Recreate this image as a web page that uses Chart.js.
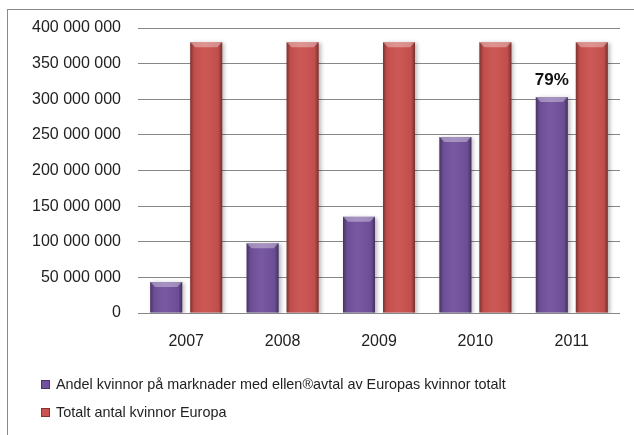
<!DOCTYPE html>
<html>
<head>
<meta charset="utf-8">
<script src="https://cdn.jsdelivr.net/npm/chart.js@4/dist/chart.umd.min.js"></script>
<style>
  html, body { margin: 0; padding: 0; background: #fff; }
  #wrap { position: relative; width: 634px; height: 435px; overflow: hidden; }
  #frame { position: absolute; left: 7px; top: 9px; width: 700px; height: 500px;
           border-left: 1px solid #8a8a8a; border-top: 1px solid #8a8a8a; pointer-events: none; }
  #legend { position: absolute; left: 41px; top: 376px; font-family: "Liberation Sans", Arial, sans-serif;
            font-size: 14.4px; color: #222; }
  #legend .item { height: 28px; display: flex; align-items: flex-start; }
  #legend .box { width: 9px; height: 9px; margin: 4px 6px 0 0; box-shadow: inset 0 0 0 1px rgba(0,0,0,0.35); }
</style>
</head>
<body>
<div id="wrap">
  <canvas id="chart-bar" width="634" height="435"></canvas>
  <div id="frame"></div>
  <div id="legend"></div>
</div>
<script>
var years = ["2007", "2008", "2009", "2010", "2011"];
var andelKvinnor = [43500000, 98000000, 135000000, 247000000, 303000000];
var totaltKvinnor = [380000000, 380000000, 380000000, 380000000, 380000000];
var andelEtikett = [null, null, null, null, "79%"];
var seriesNames = [
  "Andel kvinnor på marknader med ellen\u00aeavtal av Europas kvinnor totalt",
  "Totalt antal kvinnor Europa"
];
var yMax = 400000000;
var yStep = 50000000;

var purple = "#72529e";
var red = "#cb524f";

function spaced(v) {
  return String(v).replace(/\B(?=(\d{3})+(?!\d))/g, " ");
}

// bevel look: shadow under bars, dark edges, light top strip
var bevelPlugin = {
  id: "bevel",
  beforeDatasetsDraw: function (chart) {
    var c = chart.ctx;
    c.save();
    c.shadowColor = "rgba(0,0,0,0.28)";
    c.shadowBlur = 4;
    c.shadowOffsetX = 2;
    c.shadowOffsetY = 1;
  },
  afterDatasetsDraw: function (chart) {
    var c = chart.ctx;
    c.restore();
    chart.data.datasets.forEach(function (ds, i) {
      chart.getDatasetMeta(i).data.forEach(function (bar) {
        var p = bar.getProps(["x", "y", "base", "width"], true);
        var l = p.x - p.width / 2, r = p.x + p.width / 2;
        var g = c.createLinearGradient(l, 0, r, 0);
        g.addColorStop(0, "rgba(0,0,0,0.38)");
        g.addColorStop(0.12, "rgba(0,0,0,0.06)");
        g.addColorStop(0.45, "rgba(255,255,255,0.04)");
        g.addColorStop(0.88, "rgba(0,0,0,0.06)");
        g.addColorStop(1, "rgba(0,0,0,0.42)");
        c.save();
        c.fillStyle = g;
        c.fillRect(l, p.y, p.width, p.base - p.y);
        c.fillStyle = "rgba(255,255,255,0.35)";
        c.beginPath();
        c.moveTo(l, p.y);
        c.lineTo(r, p.y);
        c.lineTo(r - 5, p.y + 5);
        c.lineTo(l + 5, p.y + 5);
        c.closePath();
        c.fill();
        c.restore();
      });
    });
    // percentage label over purple bars
    var meta = chart.getDatasetMeta(0);
    c.save();
    c.font = "bold 17px 'Liberation Sans', Arial, sans-serif";
    c.fillStyle = "#111";
    c.textAlign = "center";
    c.textBaseline = "bottom";
    andelEtikett.forEach(function (t, j) {
      if (!t) return;
      var b = meta.data[j];
      c.fillText(t, b.x, b.y - 8);
    });
    c.restore();
  }
};

var ctx = document.getElementById("chart-bar").getContext("2d");
var chart = new Chart(ctx, {
  type: "bar",
  data: {
    labels: years,
    datasets: [
      {
        label: seriesNames[0],
        data: andelKvinnor,
        backgroundColor: purple,
        borderWidth: 0,
        categoryPercentage: 0.83,
        barPercentage: 0.8
      },
      {
        label: seriesNames[1],
        data: totaltKvinnor,
        backgroundColor: red,
        borderWidth: 0,
        categoryPercentage: 0.83,
        barPercentage: 0.8
      }
    ]
  },
  options: {
    responsive: false,
    animation: false,
    layout: { padding: { top: 28, right: 14, bottom: 0, left: 0 } },
    plugins: {
      legend: { display: false },
      tooltip: { enabled: false }
    },
    scales: {
      x: {
        grid: { display: false, drawTicks: false },
        border: { display: false },
        afterFit: function (s) { s.height = 122; },
        ticks: {
          padding: 19,
          color: "#222",
          font: { size: 16, family: "'Liberation Sans', Arial, sans-serif" }
        }
      },
      y: {
        min: 0,
        max: yMax,
        grid: { color: "#878787", lineWidth: 1, drawTicks: false },
        border: { display: false },
        afterFit: function (s) { s.width = 138; },
        ticks: {
          stepSize: yStep,
          padding: 17,
          color: "#222",
          font: { size: 16, family: "'Liberation Sans', Arial, sans-serif" },
          callback: function (v) { return spaced(v); }
        }
      }
    }
  },
  plugins: [bevelPlugin]
});

var legendEl = document.getElementById("legend");
chart.data.datasets.forEach(function (ds) {
  var item = document.createElement("div");
  item.className = "item";
  var box = document.createElement("span");
  box.className = "box";
  box.style.background = ds.backgroundColor;
  var txt = document.createElement("span");
  txt.textContent = ds.label;
  item.appendChild(box);
  item.appendChild(txt);
  legendEl.appendChild(item);
});
</script>
</body>
</html>
